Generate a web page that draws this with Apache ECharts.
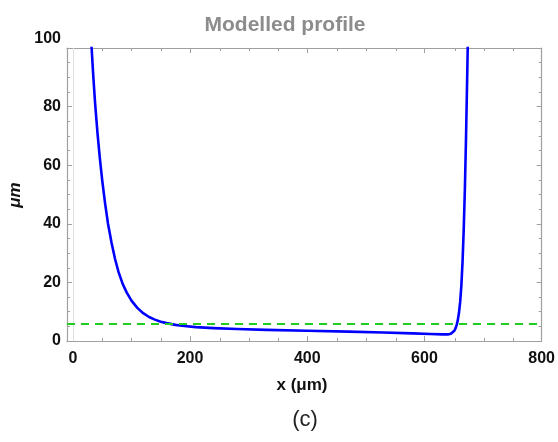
<!DOCTYPE html>
<html>
<head>
<meta charset="utf-8">
<script src="https://cdn.jsdelivr.net/npm/echarts@6/dist/echarts.min.js"></script>
<style>
html,body{margin:0;padding:0;background:#fff;}
#chart{width:558px;height:442px;}
</style>
</head>
<body>
<div id="chart"></div>
<script>
// ---- data ----
const profileX = [30, 32, 35, 38, 42, 46, 50, 55, 60, 66, 72, 78, 85, 92, 100, 110, 120, 130, 140, 150, 160, 175, 190, 210, 240, 280, 330, 400, 470, 530, 580, 610, 630, 640, 645, 648, 651, 653, 655, 657, 659, 661, 663, 665, 667, 669, 671, 673, 674, 675];
const profileY = [107, 100, 90, 81, 71, 62.5, 55, 47, 40, 33.5, 28, 23.5, 19.5, 16.5, 13.8, 11.3, 9.5, 8.2, 7.3, 6.6, 6.1, 5.5, 5.1, 4.75, 4.4, 4.1, 3.8, 3.5, 3.2, 2.9, 2.6, 2.4, 2.25, 2.25, 2.45, 2.8, 3.5, 4.3, 5.5, 7.2, 9.8, 13.5, 19, 27, 38, 52, 70, 91, 102, 113];
const thresholdLevel = 6;
const xMajorTicks = [0, 200, 400, 600, 800];
const xMinorTicks = [50, 100, 150, 250, 300, 350, 450, 500, 550, 650, 700, 750];
const titleText = 'Modelled profile';
const xName = 'x (μm)';
const yName = 'μm';
const panelLabel = '(c)';

const frameColor = '#a0a0a0';
const font = '"Liberation Sans", Arial, sans-serif';
const labelStyle = {fontFamily: font, fontWeight: 'bold', fontSize: 16, color: '#111'};
const gridBox = {left: 67, right: 15, top: 48, bottom: 101, containLabel: false};

function xAx(grid, pos, ticks, len, showLabel, showLine) {
  return {
    gridIndex: grid, type: 'value', position: pos, min: -10, max: 800,
    axisLine: {show: showLine, onZero: false, lineStyle: {color: frameColor, width: 1.2}},
    axisTick: {show: true, inside: true, length: len, customValues: ticks, lineStyle: {color: frameColor, width: 1}},
    axisLabel: showLabel ? Object.assign({show: true, margin: 10, customValues: ticks}, labelStyle) : {show: false},
    splitLine: {show: false}
  };
}
function yAx(grid, pos, showLabel, visible) {
  return {
    gridIndex: grid, type: 'value', position: pos, min: 0, max: 100, interval: 20, show: visible,
    axisLine: {show: true, onZero: false, lineStyle: {color: frameColor, width: 1.2}},
    axisTick: {show: true, inside: true, length: 5, lineStyle: {color: frameColor, width: 1}},
    minorTick: {show: true, splitNumber: 4, length: 3, lineStyle: {color: frameColor, width: 1}},
    axisLabel: showLabel ? Object.assign({
      show: true, margin: 6,
      formatter: v => (v === 100 ? '{top|' + v + '}' : String(v)),
      rich: {top: Object.assign({padding: [0, 0, 18, 0]}, labelStyle)}
    }, labelStyle) : {show: false},
    splitLine: {show: false}
  };
}

const chart = echarts.init(document.getElementById('chart'), null, {renderer: 'canvas'});
chart.setOption({
  animation: false,
  backgroundColor: '#fff',
  grid: [Object.assign({}, gridBox), Object.assign({}, gridBox), Object.assign({}, gridBox)],
  xAxis: [
    xAx(0, 'bottom', xMajorTicks, 5, true, true),
    xAx(0, 'top', xMajorTicks, 5, false, true),
    xAx(1, 'bottom', xMinorTicks, 3, false, false),
    xAx(1, 'top', xMinorTicks, 3, false, false),
    xAx(2, 'bottom', [], 3, false, false)
  ],
  yAxis: [
    yAx(0, 'left', true, true),
    yAx(0, 'right', false, true),
    yAx(1, 'left', false, false),
    yAx(1, 'right', false, false),
    yAx(2, 'left', false, false)
  ],
  graphic: [
    {type: 'text', style: {text: titleText, x: 285, y: 15, textAlign: 'center', fontFamily: font, fontWeight: 'bold', fontSize: 21, fill: '#8c8c8c'}},
    {type: 'text', style: {text: xName, x: 302, y: 377, textAlign: 'center', fontFamily: font, fontWeight: 'bold', fontSize: 17, fill: '#111'}},
    {type: 'text', rotation: Math.PI / 2, x: 15, y: 195, style: {text: yName, x: 0, y: 0, textAlign: 'center', textVerticalAlign: 'middle', fontFamily: font, fontWeight: 'bold', fontStyle: 'italic', fontSize: 17, fill: '#111'}},
    {type: 'text', style: {text: panelLabel, x: 305, y: 409, textAlign: 'center', fontFamily: font, fontSize: 22, fill: '#222'}}
  ],
  series: [
    {
      type: 'line', xAxisIndex: 0, yAxisIndex: 0,
      data: profileX.map((x, i) => [x, profileY[i]]),
      showSymbol: false, smooth: false, clip: true,
      lineStyle: {color: '#0000ff', width: 2.6, join: 'round', cap: 'round'},
      z: 3,
      markLine: {
        silent: true, symbol: 'none', label: {show: false}, animation: false,
        data: [
          {xAxis: 0, lineStyle: {color: '#e0e0e0', width: 1, type: 'solid'}},
          {yAxis: thresholdLevel, lineStyle: {color: '#22cc22', width: 2, type: [8, 6]}}
        ]
      }
    }
  ]
});
</script>
</body>
</html>
